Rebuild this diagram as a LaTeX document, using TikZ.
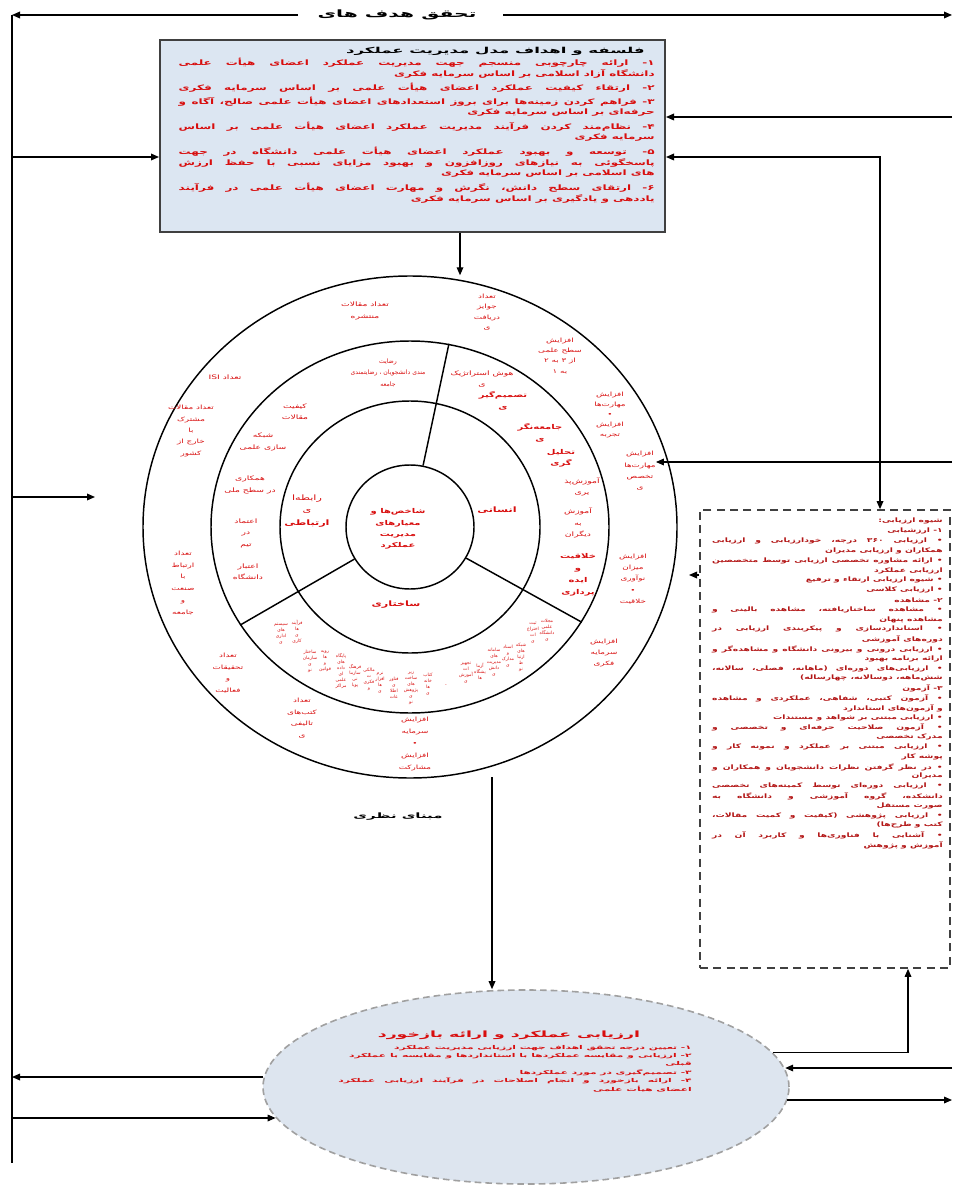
\documentclass[tikz,border=0pt]{standalone}
\usepackage{fontspec}
\usetikzlibrary{shapes.geometric,arrows.meta}
\TeXXeTstate=1
\newfontfamily\faW[Script=Arabic,FakeStretch=2.0]{DejaVu Sans}
\newfontfamily\faB[Script=Arabic,FakeStretch=1.6]{DejaVu Sans}
\newfontfamily\faM[Script=Arabic,FakeStretch=1.5]{DejaVu Sans}
\newfontfamily\faN[Script=Arabic]{DejaVu Sans}
\newcommand\fa[1]{\beginR#1\endR}
\newcommand\jl[2]{\hbox to #1{#2}}
\definecolor{txtred}{HTML}{D80E0E}
\definecolor{boxfill}{HTML}{DCE6F2}
\definecolor{boxline}{HTML}{404040}
\definecolor{ellfill}{HTML}{DDE5EF}
\definecolor{ellline}{HTML}{A0A0A0}
\definecolor{dtxt}{HTML}{B31616}
\begin{document}
\begin{tikzpicture}[x=0.75pt,y=-0.75pt,
  ln/.style={line width=0.9pt},
  arr/.style={-{Triangle[length=6pt,width=5pt]},line width=0.9pt},
  darr/.style={{Triangle[length=6pt,width=5pt]}-{Triangle[length=6pt,width=5pt]},line width=0.9pt},
  ring/.style={draw,ellipse,line width=1.1pt,inner sep=0pt},
  goaltxt/.style={inner sep=0pt,font=\faW\bfseries\fontsize{7.6}{9}\selectfont},
  btitle/.style={anchor=east,inner sep=0pt,font=\faW\bfseries\fontsize{6.2}{8}\selectfont},
  bline/.style={anchor=east,inner sep=0pt,text=txtred,font=\faB\bfseries\fontsize{5.6}{7}\selectfont},
  etitle/.style={inner sep=0pt,text=txtred,font=\faW\bfseries\fontsize{6.5}{8}\selectfont},
  eline/.style={anchor=east,inner sep=0pt,text=txtred,font=\faW\bfseries\fontsize{4}{6}\selectfont},
  dline/.style={anchor=east,inner sep=0pt,text=dtxt,font=\faM\bfseries\fontsize{4.6}{6}\selectfont},
  rtxt/.style={inner sep=0pt,align=center,text=txtred,font=\faM\fontsize{4.6}{8.6}\selectfont},
  otxt/.style={inner sep=0pt,align=center,text=txtred,font=\faM\fontsize{4.4}{8.6}\selectfont},
  ctxt/.style={inner sep=0pt,align=center,text=txtred,font=\faN\fontsize{3.4}{4.5}\selectfont},
  sect/.style={inner sep=0pt,align=center,text=txtred,font=\faM\bfseries\fontsize{5.6}{9.5}\selectfont},
  theory/.style={inner sep=0pt,font=\faW\bfseries\fontsize{5.6}{7}\selectfont}
]
\useasboundingbox (0,0) rectangle (955,1194);

% ---------- frame lines ----------
\coordinate (TL) at (12,15);
\coordinate (TR) at (952,15);
\coordinate (BL) at (12,1163);
\node[goaltxt] (goal) at (397,15) {\fa{تحقق هدف های}};
\coordinate (gl) at (298,15);
\coordinate (gr) at (503,15);
\draw[arr] (gl) -- (TL);
\draw[arr] (gr) -- (TR);
\draw[ln] (TL) -- (BL);

% ---------- top box ----------
\node[draw=boxline,fill=boxfill,line width=1.5pt,minimum width=378.75pt,minimum height=144pt,inner sep=0pt] (goals) at (412.5,136) {};
\node[btitle] (bt) at (645,51) {\fa{فلسفه و اهداف مدل مدیریت عملکرد}};
% full (justified) lines
\foreach \yy/\tt [count=\i] in {
  63/{۱- ارائه چارچوبی منسجم جهت مدیریت عملکرد اعضای هیأت علمی},
  88/{۲- ارتقاء کیفیت عملکرد اعضای هیأت علمی بر اساس سرمایه فکری},
  102/{۳- فراهم کردن زمینه‌ها برای بروز استعدادهای اعضای هیأت علمی صالح، آگاه و},
  127/{۴- نظام‌مند کردن فرآیند مدیریت عملکرد اعضای هیأت علمی بر اساس},
  152/{۵- توسعه و بهبود عملکرد اعضای هیأت علمی دانشگاه در جهت},
  163/{پاسخگوئی به نیازهای روزافزون و بهبود مزایای نسبی با حفظ ارزش},
  188/{۶- ارتقای سطح دانش، نگرش و مهارت اعضای هیأت علمی در فرآیند}}
  {\node[bline] (bf\i) at (655,\yy) {\jl{357pt}{\fa{\tt}}};}
% last lines of paragraphs
\foreach \yy/\tt [count=\i] in {
  74/{دانشگاه آزاد اسلامی بر اساس سرمایه فکری},
  113/{حرفه‌ای بر اساس سرمایه فکری},
  138/{سرمایه فکری},
  174/{های اسلامی بر اساس سرمایه فکری},
  199/{یاددهی و یادگیری بر اساس سرمایه فکری}}
  {\node[bline] (bp\i) at (655,\yy) {\fa{\tt}};}

% ---------- circle ----------
\node[ring,minimum width=400.5pt,minimum height=376.5pt] (outer) at (410,527) {};
\node[ring,minimum width=298.5pt,minimum height=279pt] (second) at (410,527) {};
\node[ring,minimum width=195pt,minimum height=189pt] (third) at (410,527) {};
\node[ring,minimum width=96pt,minimum height=93pt] (inner) at (410,527) {};
\draw[line width=1.1pt] (inner.78) -- (second.78);
\draw[line width=1.1pt] (inner.-29) -- (second.-29);
\draw[line width=1.1pt] (inner.210) -- (second.210);

% inner core
\node[sect,font=\faM\bfseries\fontsize{5}{8.5}\selectfont] (core) at (398,529) {\fa{شاخص‌ها و}\\\fa{معیارهای}\\\fa{مدیریت}\\\fa{عملکرد}};
% three capitals
\node[sect] (hum) at (497,510) {\fa{انسانی}};
\node[sect] (str) at (396,605) {\fa{ساختاری}};
\node[sect,font=\faM\fontsize{5.6}{9.5}\selectfont] (rel) at (307,511) {\fa{رابطه‌ا}\\\fa{ی}\\\fa{\textbf{ارتباطی}}};

% middle ring, right sector
\node[rtxt] (m1) at (482,379) {\fa{هوش استراتژیک}\\\fa{ی}};
\node[rtxt,font=\faM\bfseries\fontsize{5}{8.6}\selectfont] (m2) at (503,401) {\fa{تصمیم‌گیر}\\\fa{ی}};
\node[rtxt,font=\faM\bfseries\fontsize{5}{8.6}\selectfont] (m3) at (540,433) {\fa{جامعه‌نگر}\\\fa{ی}};
\node[rtxt,font=\faM\bfseries\fontsize{5}{8}\selectfont] (m4) at (561,458) {\fa{تحلیل}\\\fa{گری}};
\node[rtxt] (m5) at (582,487) {\fa{آموزش‌پذ}\\\fa{یری}};
\node[rtxt] (m6) at (578,523) {\fa{آموزش}\\\fa{به}\\\fa{دیگران}};
\node[rtxt,font=\faM\bfseries\fontsize{5}{9}\selectfont] (m7) at (578,575) {\fa{خلاقیت}\\\fa{و}\\\fa{ایده}\\\fa{پردازی}};
% middle ring, left sector
\node[rtxt,font=\faN\fontsize{4.6}{8.6}\selectfont] (m8) at (388,373) {\fa{رضایت‌}\\\fa{مندی دانشجویان ، رضایتمندی}\\\fa{جامعه}};
\node[rtxt] (m9) at (295,412) {\fa{کیفیت}\\\fa{مقالات}};
\node[rtxt] (m10) at (263,442) {\fa{شبکه‌}\\\fa{سازی علمی}};
\node[rtxt] (m11) at (250,485) {\fa{همکاری}\\\fa{در سطح ملی}};
\node[rtxt] (m12) at (246,533) {\fa{اعتماد}\\\fa{در}\\\fa{تیم}};
\node[rtxt] (m13) at (248,572) {\fa{اعتبار}\\\fa{دانشگاه}};
% middle ring, bottom sector (narrow columns)
\node[ctxt] (c1) at (281,634) {\fa{سیستم}\\\fa{های}\\\fa{اداری}\\\fa{ی}};
\node[ctxt] (c2) at (297,632) {\fa{فرآیند}\\\fa{ها}\\\fa{ی}\\\fa{کاری}};
\node[ctxt] (c3) at (310,661) {\fa{ساختار}\\\fa{سازمان}\\\fa{ی}\\\fa{نو}};
\node[ctxt] (c4) at (325,661) {\fa{رویه}\\\fa{ها}\\\fa{و}\\\fa{قوانین}};
\node[ctxt] (c5) at (341,671) {\fa{پایگاه}\\\fa{های}\\\fa{داده}\\\fa{ای}\\\fa{علمی}\\\fa{مراکز}};
\node[ctxt] (c6) at (355,676) {\fa{فرهنگ}\\\fa{سازما}\\\fa{نی}\\\fa{پویا}};
\node[ctxt] (c7) at (369,679) {\fa{مالکی}\\\fa{ت}\\\fa{فکری}\\\fa{و}};
\node[ctxt] (c8) at (380,683) {\fa{نرم}\\\fa{افزار}\\\fa{ها}\\\fa{ی}};
\node[ctxt] (c9) at (394,688) {\fa{فناور}\\\fa{ی}\\\fa{اطلا}\\\fa{عات}};
\node[ctxt] (c10) at (411,688) {\fa{زیر}\\\fa{ساخت}\\\fa{های}\\\fa{پژوهش}\\\fa{ی}\\\fa{نو}};
\node[ctxt] (c11) at (428,684) {\fa{کتاب}\\\fa{خانه}\\\fa{ها}\\\fa{ی}};
\node[ctxt] (c12) at (446,686) {\fa{-}};
\node[ctxt] (c13) at (466,673) {\fa{تجهیز}\\\fa{ات}\\\fa{آموزش}\\\fa{ی}};
\node[ctxt] (c14) at (480,671) {\fa{آزما}\\\fa{یشگاه}\\\fa{ها}};
\node[ctxt] (c15) at (494,662) {\fa{سامانه}\\\fa{های}\\\fa{مدیریت}\\\fa{دانش}\\\fa{ی}};
\node[ctxt] (c16) at (508,656) {\fa{اسناد}\\\fa{و}\\\fa{مدارک}\\\fa{ی}};
\node[ctxt] (c17) at (521,657) {\fa{شبکه}\\\fa{های}\\\fa{ارتبا}\\\fa{ط}\\\fa{نو}};
\node[ctxt] (c18) at (533,632) {\fa{ثبت}\\\fa{اختراع}\\\fa{ات}\\\fa{ی}};
\node[ctxt] (c19) at (547,630) {\fa{مجلات}\\\fa{علمی}\\\fa{دانشگاه}\\\fa{ی}};

% outer ring
\node[rtxt] (o1) at (365,311) {\fa{تعداد مقالات}\\\fa{منتشره}};
\node[otxt,font=\faM\fontsize{4.4}{7.8}\selectfont] (o2) at (487,312) {\fa{تعداد}\\\fa{جوایز}\\\fa{دریافت}\\\fa{ی}};
\node[otxt,font=\faM\fontsize{4.4}{7.6}\selectfont] (o3) at (560,356) {\fa{افزایش}\\\fa{سطح علمی}\\\fa{از ۳ به ۲}\\\fa{به ۱}};
\node[otxt,font=\faM\fontsize{4.4}{7.6}\selectfont] (o4) at (610,415) {\fa{افزایش}\\\fa{مهارت‌ها}\\\fa{•}\\\fa{افزایش}\\\fa{تجربه}};
\node[otxt,font=\faM\fontsize{4.4}{8.5}\selectfont] (o5) at (640,471) {\fa{افزایش}\\\fa{مهارت‌ها}\\\fa{تخصص}\\\fa{ی}};
\node[otxt,font=\faM\fontsize{4.4}{8.4}\selectfont] (o6) at (633,579) {\fa{افزایش}\\\fa{میزان}\\\fa{نوآوری}\\\fa{•}\\\fa{خلاقیت}};
\node[otxt,font=\faM\fontsize{4.4}{8.4}\selectfont] (o7) at (604,653) {\fa{افزایش}\\\fa{سرمایه}\\\fa{فکری}};
\node[otxt,font=\faM\fontsize{4.4}{9}\selectfont] (o8) at (415,744) {\fa{افزایش}\\\fa{سرمایه}\\\fa{•}\\\fa{افزایش}\\\fa{مشارکت}};
\node[otxt] (o9) at (302,718) {\fa{تعداد}\\\fa{کتب‌های}\\\fa{تالیفی}\\\fa{ی}};
\node[otxt] (o10) at (228,673) {\fa{تعداد}\\\fa{تحقیقات}\\\fa{و}\\\fa{فعالیت}};
\node[rtxt] (o11) at (225,377) {\fa{تعداد \beginL ISI\endL}};
\node[otxt] (o12) at (191,431) {\fa{تعداد مقالات}\\\fa{مشترک}\\\fa{با}\\\fa{خارج از}\\\fa{کشور}};
\node[otxt,font=\faM\fontsize{4.4}{8.8}\selectfont] (o13) at (183,583) {\fa{تعداد}\\\fa{ارتباط}\\\fa{با}\\\fa{صنعت}\\\fa{و}\\\fa{جامعه}};

\node[theory] (theo) at (398,817) {\fa{مبنای نظری}};

% ---------- dashed box ----------
\node[draw=boxline,dash pattern=on 6pt off 4pt,line width=1.3pt,fill=white,minimum width=187.5pt,minimum height=343.5pt,inner sep=0pt] (dbox) at (825,739) {};
% full (justified) lines
\foreach \yy/\tt [count=\i] in {
  541/{• ارزیابی ۳۶۰ درجه، خودارزیابی و ارزیابی},
  561/{• ارائه مشاوره تخصصی ارزیابی توسط متخصصین},
  610/{• مشاهده ساختاریافته، مشاهده بالینی و},
  629/{• استانداردسازی و پیکربندی ارزیابی در},
  649/{• ارزیابی درونی و بیرونی دانشگاه و مشاهده‌گر و},
  669/{• ارزیابی‌های دوره‌ای (ماهانه، فصلی، سالانه،},
  698/{• آزمون کتبی، شفاهی، عملکردی و مشاهده},
  727/{• آزمون صلاحیت حرفه‌ای و تخصصی و},
  747/{• ارزیابی مبتنی بر عملکرد و نمونه کار و},
  767/{• در نظر گرفتن نظرات دانشجویان و همکاران و},
  786/{• ارزیابی دوره‌ای توسط کمیته‌های تخصصی},
  796/{دانشکده، گروه آموزشی و دانشگاه به},
  816/{• ارزیابی پژوهشی (کیفیت و کمیت مقالات،},
  835/{• آشنایی با فناوری‌ها و کاربرد آن در}}
  {\node[dline] (df\i) at (943,\yy) {\jl{173pt}{\fa{\tt}}};}
% short lines
\foreach \yy/\tt [count=\i] in {
  521/{شیوه ارزیابی:},
  531/{۱- ارزشیابی},
  551/{همکاران و ارزیابی مدیران},
  571/{ارزیابی عملکرد},
  580/{• شیوه ارزیابی ارتقاء و ترفیع},
  590/{• ارزیابی کلاسی},
  600/{۲- مشاهده},
  620/{مشاهده پنهان},
  639/{دوره‌های آموزشی},
  659/{ارائه برنامه بهبود},
  678/{شش‌ماهه، دوسالانه، چهارساله)},
  688/{۳- آزمون},
  708/{و آزمون‌های استاندارد},
  718/{• ارزیابی مبتنی بر شواهد و مستندات},
  737/{مدرک تخصصی},
  757/{پوشه کار},
  776/{مدیران},
  806/{صورت مستقل},
  825/{کتب و طرح‌ها)},
  845/{آموزش و پژوهش}}
  {\node[dline] (dp\i) at (943,\yy) {\fa{\tt}};}

% ---------- evaluation ellipse ----------
\node[ellipse,draw=ellline,dash pattern=on 5pt off 3pt,line width=1.2pt,fill=ellfill,minimum width=394.5pt,minimum height=145.5pt,inner sep=0pt] (eval) at (526,1087) {};
\node[etitle] (et) at (509,1035) {\fa{ارزیابی عملکرد و ارائه بازخورد}};
\node[eline] (e1) at (692,1048) {\fa{۱- تعیین درجه تحقق اهداف جهت ارزیابی مدیریت عملکرد}};
\node[eline] (e2) at (692,1056) {\jl{257pt}{\beginR ۲- ارزیابی و مقایسه عملکردها با استانداردها و مقایسه با عملکرد\endR}};
\node[eline] (e3) at (692,1064) {\fa{قبلی}};
\node[eline] (e4) at (692,1073) {\fa{۳- تصمیم‌گیری در مورد عملکردها}};
\node[eline] (e5) at (692,1081) {\jl{265pt}{\beginR ۴- ارائه بازخورد و انجام اصلاحات در فرآیند ارزیابی عملکرد\endR}};
\node[eline] (e6) at (692,1089) {\fa{اعضای هیأت علمی}};

% ---------- connectors ----------
\coordinate (L157) at (12,157);
\draw[arr] (L157) -- (L157 -| goals.west);
\coordinate (L497) at (12,497);
\coordinate (P497) at (95,497);
\draw[arr] (L497) -- (P497);
\coordinate (R117) at (952,117);
\draw[arr] (R117) -- (R117 -| goals.east);
\coordinate (K157) at (880,157);
\draw[darr] (K157 -| goals.east) -- (K157) -- (K157 |- dbox.north);
\coordinate (X460) at (460,232);
\draw[arr] (X460 |- goals.south) -- (X460 |- outer.north);
\coordinate (R462) at (952,462);
\draw[arr] (R462) -- (R462 -| o5.east);
\coordinate (Q575) at (689,575);
\draw[arr] (Q575 -| dbox.west) -- (Q575);
\coordinate (V777) at (492,777);
\draw[arr] (V777) -- (V777 |- eval.north);
\coordinate (K908) at (908,968);
\draw[arr] (eval.8) -| (K908 |- dbox.south);
\coordinate (R1068) at (952,1068);
\draw[arr] (R1068) -- (R1068 -| eval.4);
\coordinate (R1100) at (952,1100);
\draw[arr] (R1100 -| eval.-3) -- (R1100);
\coordinate (L1077) at (12,1077);
\draw[arr] (L1077 -| eval.178) -- (L1077);
\coordinate (L1118) at (12,1118);
\draw[arr] (L1118) -- (L1118 -| eval.187);
\end{tikzpicture}
\end{document}
